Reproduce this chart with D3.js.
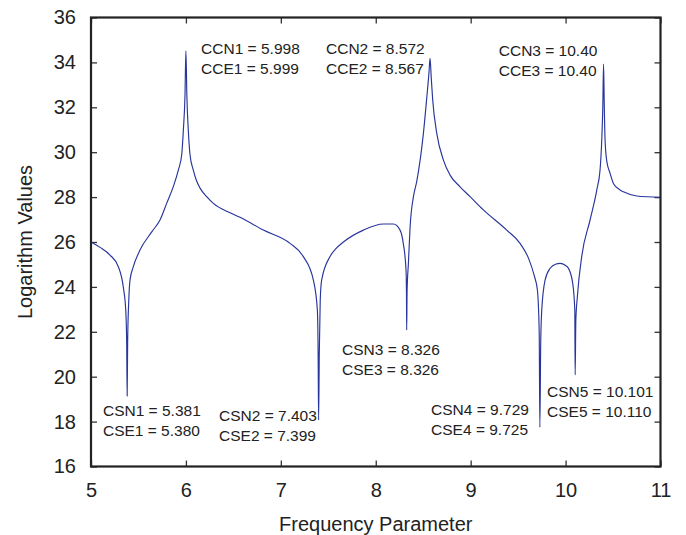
<!DOCTYPE html>
<html>
<head>
<meta charset="utf-8">
<script src="https://cdn.jsdelivr.net/npm/d3@7"></script>
<style>
  body { margin: 0; background: #fff; }
  svg text { font-family: "Liberation Sans", Arial, sans-serif; fill: #222; }
</style>
</head>
<body>
<div id="chart"></div>
<script>
const freq = [
  5.000, 5.095, 5.200, 5.288, 5.340, 5.366, 5.376, 5.381, 5.386, 5.398,
  5.411, 5.446, 5.516, 5.640, 5.727, 5.797, 5.870, 5.920, 5.956, 5.973,
  5.990, 6.000, 6.010, 6.025, 6.043, 6.078, 6.110, 6.149, 6.219, 6.289, 6.465,
  6.570, 6.816, 7.097, 7.237, 7.343, 7.385, 7.393, 7.398, 7.405, 7.415,
  7.430, 7.518, 7.580, 7.659, 7.870, 8.080, 8.186, 8.256, 8.290, 8.319, 8.324,
  8.326, 8.330, 8.344, 8.362, 8.397, 8.432, 8.502, 8.537, 8.560, 8.572,
  8.585, 8.600, 8.643, 8.713, 8.783, 8.888, 8.994, 9.134, 9.380, 9.520,
  9.610, 9.670, 9.703, 9.722, 9.729, 9.738, 9.749, 9.784, 9.837, 9.900,
  9.942, 10.000, 10.030, 10.075, 10.097, 10.101, 10.108, 10.124, 10.170, 10.258,
  10.329, 10.363, 10.381, 10.392, 10.400, 10.408, 10.416, 10.434, 10.469, 10.504,
  10.574, 10.609, 10.750, 11.000
];
const logValue = [
  26.00, 25.76, 25.42, 24.90, 24.00, 22.97, 21.50, 19.14, 21.50, 23.40,
  24.30, 24.90, 25.64, 26.45, 26.98, 27.72, 28.50, 29.20, 29.90, 30.99,
  32.50, 34.52, 32.50, 30.99, 29.90, 29.20, 28.75, 28.40, 28.02, 27.72, 27.30,
  27.10, 26.53, 25.94, 25.35, 24.30, 22.97, 21.00, 18.07, 21.00, 23.40,
  24.30, 25.35, 25.70, 26.00, 26.53, 26.80, 26.80, 26.53, 25.94, 24.75, 23.50,
  22.08, 23.80, 25.05, 26.68, 28.02, 28.70, 30.84, 32.40, 33.50, 34.18,
  33.30, 32.33, 30.84, 29.65, 28.98, 28.46, 28.02, 27.43, 26.53, 25.94,
  25.27, 24.50, 23.86, 22.00, 17.75, 21.50, 22.97, 24.30, 24.83, 25.02,
  25.05, 24.95, 24.83, 24.16, 22.97, 20.08, 22.50, 23.56, 25.35, 26.98,
  28.32, 29.20, 30.54, 32.00, 33.93, 32.00, 30.54, 29.60, 29.06, 28.61,
  28.32, 28.24, 28.05, 27.99
];

const xTicks = [5, 6, 7, 8, 9, 10, 11];
const yTicks = [16, 18, 20, 22, 24, 26, 28, 30, 32, 34, 36];

// annotation text, anchored at (freq, value) of the first line's left baseline
const noteLines = [
  ["CCN1 = 5.998", "CCE1 = 5.999"],
  ["CCN2 = 8.572", "CCE2 = 8.567"],
  ["CCN3 = 10.40", "CCE3 = 10.40"],
  ["CSN1 = 5.381", "CSE1 = 5.380"],
  ["CSN2 = 7.403", "CSE2 = 7.399"],
  ["CSN3 = 8.326", "CSE3 = 8.326"],
  ["CSN4 = 9.729", "CSE4 = 9.725"],
  ["CSN5 = 10.101", "CSE5 = 10.110"]
];
const noteX = [6.16, 7.476, 9.296, 5.126, 6.349, 7.645, 8.583, 9.805];
const noteY = [34.37, 34.37, 34.29, 18.25, 18.03, 20.97, 18.29, 19.11];

const margin = { top: 17.5, right: 25.5, bottom: 68.5, left: 91 },
  width = 686,
  height = 535;

const svg = d3.select("#chart")
  .append("svg")
  .attr("width", width)
  .attr("height", height);

const xScale = d3.scaleLinear()
  .domain([5, 11])
  .range([margin.left, width - margin.right]);

const yScale = d3.scaleLinear()
  .domain([16, 36])
  .range([height - margin.bottom, margin.top]);

// axes with inward ticks
const xAxis = d3.axisBottom(xScale).tickValues(xTicks).tickFormat(d3.format("d"))
  .tickSizeInner(-6).tickSizeOuter(0).tickPadding(16);
const yAxis = d3.axisLeft(yScale).tickValues(yTicks).tickFormat(d3.format("d"))
  .tickSizeInner(-6).tickSizeOuter(0).tickPadding(15);
const xTop = d3.axisTop(xScale).tickValues(xTicks).tickSizeInner(-6).tickSizeOuter(0).tickFormat("");
const yRight = d3.axisRight(yScale).tickValues(yTicks).tickSizeInner(-6).tickSizeOuter(0).tickFormat("");

function styleAxis(g) {
  g.select(".domain").remove();
  g.selectAll(".tick line").attr("stroke", "#333").attr("stroke-width", 1.3);
  g.selectAll(".tick text").style("font-size", "20px").attr("fill", "#222");
}

svg.append("g")
  .attr("transform", `translate(0,${height - margin.bottom})`)
  .call(xAxis).call(styleAxis);
svg.append("g")
  .attr("transform", `translate(${margin.left},0)`)
  .call(yAxis).call(styleAxis);
svg.append("g")
  .attr("transform", `translate(0,${margin.top})`)
  .call(xTop).call(styleAxis);
svg.append("g")
  .attr("transform", `translate(${width - margin.right},0)`)
  .call(yRight).call(styleAxis);

const data = freq.map((f, i) => ({ f: f, v: logValue[i] }));

const line = d3.line()
  .x(d => xScale(d.f))
  .y(d => yScale(d.v))
  .curve(d3.curveMonotoneX);

svg.append("path")
  .datum(data)
  .attr("fill", "none")
  .attr("stroke", "#28359b")
  .attr("stroke-width", 1.15)
  .attr("d", line);

// frame
svg.append("rect")
  .attr("x", margin.left)
  .attr("y", margin.top)
  .attr("width", width - margin.left - margin.right)
  .attr("height", height - margin.top - margin.bottom)
  .attr("fill", "none")
  .attr("stroke", "#222")
  .attr("stroke-width", 2.2);

// annotations
const notes = svg.append("g").style("font-size", "15.5px");
noteLines.forEach((lines, i) => {
  lines.forEach((t, j) => {
    notes.append("text")
      .attr("x", xScale(noteX[i]))
      .attr("y", yScale(noteY[i]) + j * 20)
      .attr("fill", "#222")
      .text(t);
  });
});

// axis titles
svg.append("text")
  .attr("x", (margin.left + width - margin.right) / 2)
  .attr("y", 531)
  .attr("text-anchor", "middle")
  .style("font-size", "20px")
  .text("Frequency Parameter");

svg.append("text")
  .attr("transform", `translate(32,${(margin.top + height - margin.bottom) / 2}) rotate(-90)`)
  .attr("text-anchor", "middle")
  .style("font-size", "20px")
  .text("Logarithm Values");
</script>
</body>
</html>
